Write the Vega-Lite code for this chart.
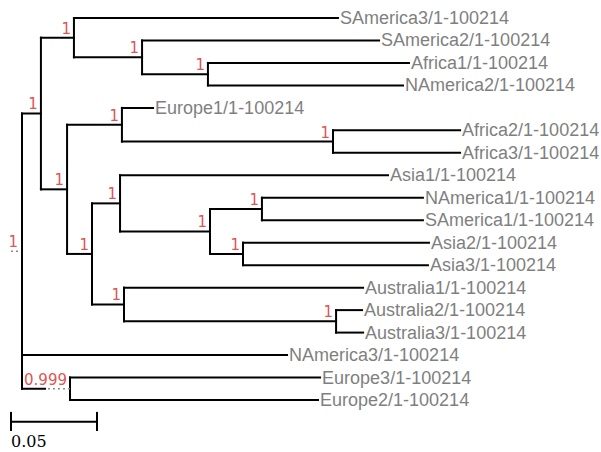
{
  "$schema": "https://vega.github.io/schema/vega-lite/v6.json",
  "width": 601,
  "height": 452,
  "padding": 0,
  "autosize": {"type": "none"},
  "background": "white",
  "config": {"view": {"stroke": null}},
  "datasets": {
    "hbranches": [
      {"node": "nA", "x": 0, "x2": 0.0110, "y": 4.25},
      {"node": "nB", "x": 0.0110, "x2": 0.0302, "y": 0.875},
      {"node": "SAmerica3", "x": 0.0302, "x2": 0.1837, "y": 0},
      {"node": "nC", "x": 0.0302, "x2": 0.0698, "y": 1.75},
      {"node": "SAmerica2", "x": 0.0698, "x2": 0.2076, "y": 1},
      {"node": "nD", "x": 0.0698, "x2": 0.1081, "y": 2.5},
      {"node": "Africa1", "x": 0.1081, "x2": 0.2250, "y": 2},
      {"node": "NAmerica2", "x": 0.1081, "x2": 0.2215, "y": 3},
      {"node": "nE", "x": 0.0110, "x2": 0.0262, "y": 7.625},
      {"node": "nF", "x": 0.0262, "x2": 0.0581, "y": 4.75},
      {"node": "Europe1", "x": 0.0581, "x2": 0.0762, "y": 4},
      {"node": "nG", "x": 0.0581, "x2": 0.1808, "y": 5.5},
      {"node": "Africa2", "x": 0.1808, "x2": 0.2547, "y": 5},
      {"node": "Africa3", "x": 0.1808, "x2": 0.2547, "y": 6},
      {"node": "nH", "x": 0.0262, "x2": 0.0407, "y": 10.5},
      {"node": "nI", "x": 0.0407, "x2": 0.0570, "y": 8.25},
      {"node": "Asia1", "x": 0.0570, "x2": 0.2128, "y": 7},
      {"node": "nJ", "x": 0.0570, "x2": 0.1093, "y": 9.5},
      {"node": "nK", "x": 0.1093, "x2": 0.1395, "y": 8.5},
      {"node": "NAmerica1", "x": 0.1395, "x2": 0.2331, "y": 8},
      {"node": "SAmerica1", "x": 0.1395, "x2": 0.2331, "y": 9},
      {"node": "nL", "x": 0.1093, "x2": 0.1285, "y": 10.5},
      {"node": "Asia2", "x": 0.1285, "x2": 0.2366, "y": 10},
      {"node": "Asia3", "x": 0.1285, "x2": 0.2360, "y": 11},
      {"node": "nM", "x": 0.0407, "x2": 0.0593, "y": 12.75},
      {"node": "Australia1", "x": 0.0593, "x2": 0.1983, "y": 12},
      {"node": "nN", "x": 0.0593, "x2": 0.1826, "y": 13.5},
      {"node": "Australia2", "x": 0.1826, "x2": 0.1977, "y": 13},
      {"node": "Australia3", "x": 0.1826, "x2": 0.1983, "y": 14},
      {"node": "NAmerica3", "x": 0, "x2": 0.1541, "y": 15},
      {"node": "nO", "x": 0, "x2": 0.0134, "y": 16.5},
      {"node": "Europe3", "x": 0.0279, "x2": 0.1733, "y": 16},
      {"node": "Europe2", "x": 0.0279, "x2": 0.1721, "y": 17}
    ],
    "vbranches": [
      {"node": "root", "x": 0, "y": 4.25, "y2": 16.5},
      {"node": "nA", "x": 0.0110, "y": 0.875, "y2": 7.625},
      {"node": "nB", "x": 0.0302, "y": 0, "y2": 1.75},
      {"node": "nC", "x": 0.0698, "y": 1, "y2": 2.5},
      {"node": "nD", "x": 0.1081, "y": 2, "y2": 3},
      {"node": "nE", "x": 0.0262, "y": 4.75, "y2": 10.5},
      {"node": "nF", "x": 0.0581, "y": 4, "y2": 5.5},
      {"node": "nG", "x": 0.1808, "y": 5, "y2": 6},
      {"node": "nH", "x": 0.0407, "y": 8.25, "y2": 12.75},
      {"node": "nI", "x": 0.0570, "y": 7, "y2": 9.5},
      {"node": "nJ", "x": 0.1093, "y": 8.5, "y2": 10.5},
      {"node": "nK", "x": 0.1395, "y": 8, "y2": 9},
      {"node": "nL", "x": 0.1285, "y": 10, "y2": 11},
      {"node": "nM", "x": 0.0593, "y": 12, "y2": 13.5},
      {"node": "nN", "x": 0.1826, "y": 13, "y2": 14},
      {"node": "nO", "x": 0.0279, "y": 16, "y2": 17}
    ],
    "dotted": [
      {"node": "nO", "x": 0.0151, "x2": 0.0279, "y": 16.5},
      {"node": "root", "x": -0.0064, "x2": -0.0006, "y": 10.375}
    ],
    "leaves": [
      {"name": "SAmerica3/1-100214", "x": 0.1837, "y": 0},
      {"name": "SAmerica2/1-100214", "x": 0.2076, "y": 1},
      {"name": "Africa1/1-100214", "x": 0.2250, "y": 2},
      {"name": "NAmerica2/1-100214", "x": 0.2215, "y": 3},
      {"name": "Europe1/1-100214", "x": 0.0762, "y": 4},
      {"name": "Africa2/1-100214", "x": 0.2547, "y": 5},
      {"name": "Africa3/1-100214", "x": 0.2547, "y": 6},
      {"name": "Asia1/1-100214", "x": 0.2128, "y": 7},
      {"name": "NAmerica1/1-100214", "x": 0.2331, "y": 8},
      {"name": "SAmerica1/1-100214", "x": 0.2331, "y": 9},
      {"name": "Asia2/1-100214", "x": 0.2366, "y": 10},
      {"name": "Asia3/1-100214", "x": 0.2360, "y": 11},
      {"name": "Australia1/1-100214", "x": 0.1983, "y": 12},
      {"name": "Australia2/1-100214", "x": 0.1977, "y": 13},
      {"name": "Australia3/1-100214", "x": 0.1983, "y": 14},
      {"name": "NAmerica3/1-100214", "x": 0.1541, "y": 15},
      {"name": "Europe3/1-100214", "x": 0.1733, "y": 16},
      {"name": "Europe2/1-100214", "x": 0.1721, "y": 17}
    ],
    "support": [
      {"node": "root", "x": -0.0006, "y": 10.375, "label": "1"},
      {"node": "nA", "x": 0.0110, "y": 4.25, "label": "1"},
      {"node": "nB", "x": 0.0302, "y": 0.875, "label": "1"},
      {"node": "nC", "x": 0.0698, "y": 1.75, "label": "1"},
      {"node": "nD", "x": 0.1081, "y": 2.5, "label": "1"},
      {"node": "nE", "x": 0.0262, "y": 7.625, "label": "1"},
      {"node": "nF", "x": 0.0581, "y": 4.75, "label": "1"},
      {"node": "nG", "x": 0.1808, "y": 5.5, "label": "1"},
      {"node": "nH", "x": 0.0407, "y": 10.5, "label": "1"},
      {"node": "nI", "x": 0.0570, "y": 8.25, "label": "1"},
      {"node": "nJ", "x": 0.1093, "y": 9.5, "label": "1"},
      {"node": "nK", "x": 0.1395, "y": 8.5, "label": "1"},
      {"node": "nL", "x": 0.1285, "y": 10.5, "label": "1"},
      {"node": "nM", "x": 0.0593, "y": 12.75, "label": "1"},
      {"node": "nN", "x": 0.1826, "y": 13.5, "label": "1"},
      {"node": "nO", "x": 0.0279, "y": 16.5, "label": "0.999"}
    ],
    "scalebar": [
      {"part": "bar", "x": -0.0064, "x2": 0.0436, "y": 17.97, "y2": 17.97},
      {"part": "left", "x": -0.0064, "x2": -0.0064, "y": 17.53, "y2": 18.38},
      {"part": "right", "x": 0.0436, "x2": 0.0436, "y": 17.53, "y2": 18.38}
    ],
    "scalelabel": [
      {"x": -0.0064, "y": 19.09, "label": "0.05"}
    ]
  },
  "layer": [
    {
      "data": {"name": "hbranches"},
      "mark": {"type": "rule", "color": "#000000", "strokeWidth": 2, "strokeCap": "square"},
      "encoding": {
        "x": {"field": "x", "type": "quantitative", "scale": {"domain": [-0.012791, 0.336628], "nice": false, "zero": false}, "axis": null},
        "x2": {"field": "x2"},
        "y": {"field": "y", "type": "quantitative", "scale": {"domain": [-0.8011, 19.3146], "nice": false, "zero": false, "reverse": true}, "axis": null}
      }
    },
    {
      "data": {"name": "vbranches"},
      "mark": {"type": "rule", "color": "#000000", "strokeWidth": 2, "strokeCap": "square"},
      "encoding": {
        "x": {"field": "x", "type": "quantitative", "scale": {"domain": [-0.012791, 0.336628], "nice": false, "zero": false}, "axis": null},
        "y": {"field": "y", "type": "quantitative", "scale": {"domain": [-0.8011, 19.3146], "nice": false, "zero": false, "reverse": true}, "axis": null},
        "y2": {"field": "y2"}
      }
    },
    {
      "data": {"name": "dotted"},
      "mark": {"type": "rule", "color": "#888888", "strokeWidth": 1.5, "strokeDash": [2, 3]},
      "encoding": {
        "x": {"field": "x", "type": "quantitative", "scale": {"domain": [-0.012791, 0.336628], "nice": false, "zero": false}, "axis": null},
        "x2": {"field": "x2"},
        "y": {"field": "y", "type": "quantitative", "scale": {"domain": [-0.8011, 19.3146], "nice": false, "zero": false, "reverse": true}, "axis": null}
      }
    },
    {
      "data": {"name": "leaves"},
      "mark": {"type": "text", "align": "left", "baseline": "middle", "dx": 2, "dy": 1, "font": "Liberation Sans", "fontSize": 18, "color": "#7f7f7f"},
      "encoding": {
        "x": {"field": "x", "type": "quantitative", "scale": {"domain": [-0.012791, 0.336628], "nice": false, "zero": false}, "axis": null},
        "y": {"field": "y", "type": "quantitative", "scale": {"domain": [-0.8011, 19.3146], "nice": false, "zero": false, "reverse": true}, "axis": null},
        "text": {"field": "name"}
      }
    },
    {
      "data": {"name": "support"},
      "mark": {"type": "text", "align": "right", "baseline": "alphabetic", "dx": -3, "dy": -4, "font": "DejaVu Sans", "fontSize": 15, "color": "#e05555"},
      "encoding": {
        "x": {"field": "x", "type": "quantitative", "scale": {"domain": [-0.012791, 0.336628], "nice": false, "zero": false}, "axis": null},
        "y": {"field": "y", "type": "quantitative", "scale": {"domain": [-0.8011, 19.3146], "nice": false, "zero": false, "reverse": true}, "axis": null},
        "text": {"field": "label"}
      }
    },
    {
      "data": {"name": "scalebar"},
      "mark": {"type": "rule", "color": "#000000", "strokeWidth": 2},
      "encoding": {
        "x": {"field": "x", "type": "quantitative", "scale": {"domain": [-0.012791, 0.336628], "nice": false, "zero": false}, "axis": null},
        "x2": {"field": "x2"},
        "y": {"field": "y", "type": "quantitative", "scale": {"domain": [-0.8011, 19.3146], "nice": false, "zero": false, "reverse": true}, "axis": null},
        "y2": {"field": "y2"}
      }
    },
    {
      "data": {"name": "scalelabel"},
      "mark": {"type": "text", "align": "left", "baseline": "alphabetic", "font": "DejaVu Serif", "fontSize": 16, "color": "#000000"},
      "encoding": {
        "x": {"field": "x", "type": "quantitative", "scale": {"domain": [-0.012791, 0.336628], "nice": false, "zero": false}, "axis": null},
        "y": {"field": "y", "type": "quantitative", "scale": {"domain": [-0.8011, 19.3146], "nice": false, "zero": false, "reverse": true}, "axis": null},
        "text": {"field": "label"}
      }
    }
  ]
}
